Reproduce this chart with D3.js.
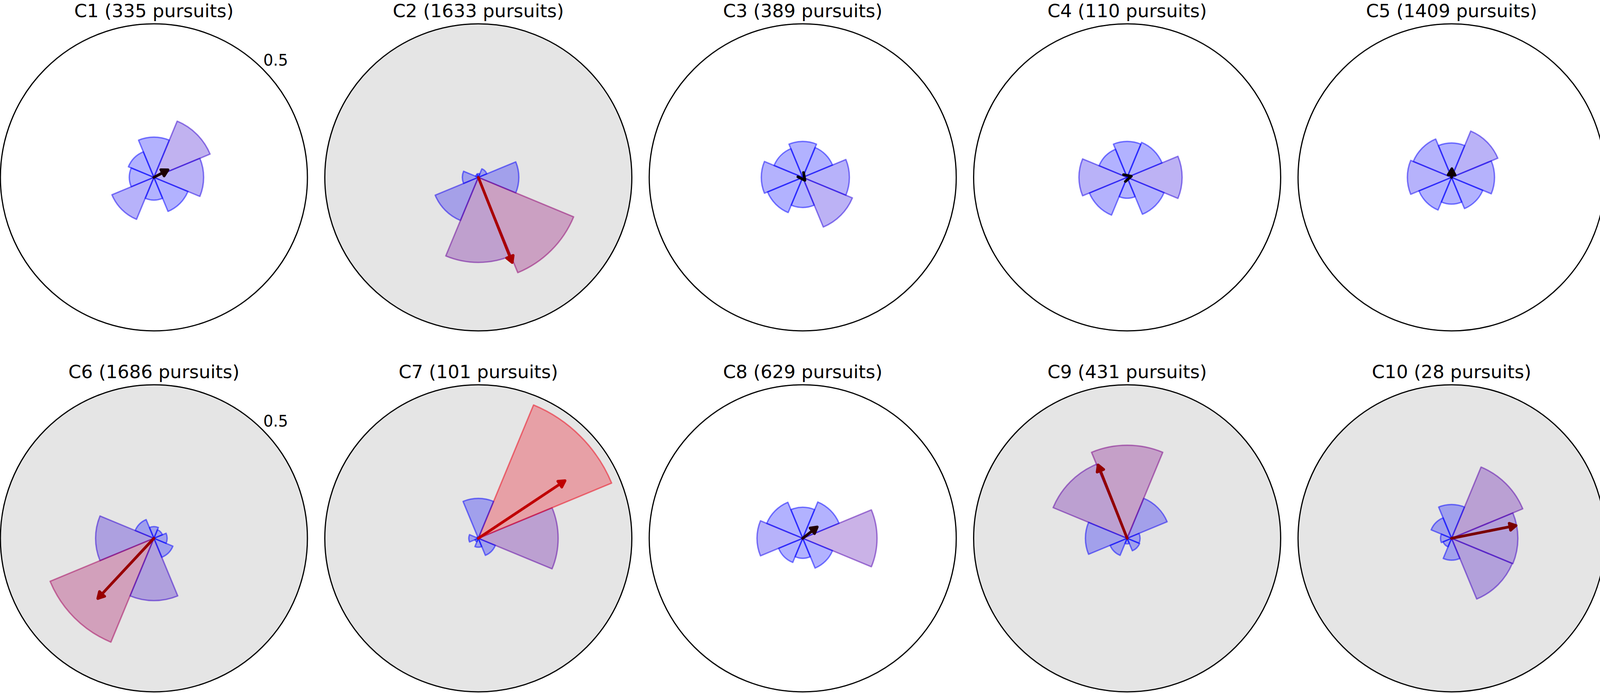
<!DOCTYPE html>
<head>
  <meta charset="utf-8">
  <script src="https://cdn.jsdelivr.net/npm/d3@7"></script>
  <style>
    body { margin: 0; background: #fff; }
    svg { display: block; font-family: "DejaVu Sans", sans-serif; }
  </style>
</head>

<body>
  <svg></svg>

  <script>
    const width = 4115;
    const height = 1774;

    // clusters and number of pursuits in each
    const clusters = ['C1', 'C2', 'C3', 'C4', 'C5', 'C6', 'C7', 'C8', 'C9', 'C10'];
    const pursuits = [335, 1633, 389, 110, 1409, 1686, 101, 629, 431, 28];
    // significant clusters get a grey disc
    const significant = [false, true, false, false, false, true, true, false, true, true];

    // bin centres (deg, counter-clockwise from east), 45 deg wide
    const binCentres = [0, 45, 90, 135, 180, 225, 270, 315];
    const binWidth = 45;

    // proportion of pursuits per direction bin, one row per cluster
    const proportions = [
      [0.162, 0.198, 0.131, 0.090, 0.080, 0.148, 0.074, 0.120],
      [0.132, 0.030, 0.012, 0.010, 0.052, 0.152, 0.277, 0.336],
      [0.152, 0.105, 0.117, 0.101, 0.135, 0.124, 0.098, 0.175],
      [0.179, 0.123, 0.117, 0.099, 0.157, 0.133, 0.068, 0.130],
      [0.140, 0.163, 0.112, 0.135, 0.144, 0.115, 0.087, 0.110],
      [0.043, 0.030, 0.038, 0.066, 0.190, 0.366, 0.203, 0.067],
      [0.260, 0.470, 0.130, 0.005, 0.031, 0.012, 0.029, 0.060],
      [0.242, 0.128, 0.101, 0.127, 0.149, 0.085, 0.065, 0.105],
      [0.042, 0.141, 0.303, 0.261, 0.136, 0.060, 0.018, 0.044],
      [0.216, 0.251, 0.110, 0.072, 0.036, 0.030, 0.071, 0.214],
    ];

    // mean direction arrow: angle (deg) and length
    const arrowAngle = [28, -68.3, -53, 15, 88, 227, 33.6, 38, 111.6, 11.2];
    const arrowLength = [0.052, 0.2985, 0.012, 0.014, 0.028, 0.268, 0.339, 0.060, 0.257, 0.214];

    const radialTicks = [0.5];
    const rMax = 0.5;

    // layout
    const ncols = 5;
    const radius = 393;
    const colX = d3.scaleLinear().domain([0, 4]).range([394, 394 + 4 * 830.5]);
    const rowY = d3.scaleOrdinal().domain([0, 1]).range([454, 1378]);

    const rScale = d3.scaleLinear().domain([0, rMax]).range([0, radius]);
    const barColor = d3.scaleLinear().domain([0.125, 0.5]).range(['#0000ff', '#ff0000']).clamp(true);
    const arrowColor = d3.scaleLinear().domain([0, 0.45]).range(['#000000', '#ff0000']).clamp(true);
    const rad = d => d * Math.PI / 180;

    const arc = d3.arc()
      .innerRadius(0)
      .outerRadius(d => rScale(d.value))
      .startAngle(d => Math.PI / 2 - rad(d.angle + binWidth / 2))
      .endAngle(d => Math.PI / 2 - rad(d.angle - binWidth / 2));

    const svg = d3.select('svg')
      .attr('width', width)
      .attr('height', height);

    clusters.forEach((name, i) => {
      const col = i % ncols;
      const row = Math.floor(i / ncols);
      const g = svg.append('g')
        .attr('transform', `translate(${colX(col)},${rowY(row)})`);

      // background disc
      g.append('circle')
        .attr('r', rScale(rMax))
        .attr('fill', significant[i] ? '#e5e5e5' : '#ffffff');

      // bars
      const bins = binCentres.map((angle, j) => ({ angle, value: proportions[i][j] }));
      g.selectAll('path.bar')
        .data(bins)
        .enter().append('path')
        .attr('class', 'bar')
        .attr('d', arc)
        .attr('fill', d => barColor(d.value))
        .attr('fill-opacity', 0.3)
        .attr('stroke', d => barColor(d.value))
        .attr('stroke-opacity', 0.5)
        .attr('stroke-width', 3.5)
        .attr('stroke-linejoin', 'round');

      // arrow (short ones come out as an open chevron, like matplotlib's)
      const a = rad(arrowAngle[i]);
      const len = rScale(arrowLength[i]);
      const ux = Math.cos(a), uy = -Math.sin(a);
      const tx = len * ux, ty = len * uy;
      const short = len < 18;
      const hl = short ? 18 : 16, hw = 9;
      const bx = tx - hl * ux, by = ty - hl * uy;
      const c1 = [bx - hw * uy, by + hw * ux];
      const c2 = [bx + hw * uy, by - hw * ux];
      const col2 = arrowColor(arrowLength[i]);
      if (!short) {
        g.append('line')
          .attr('x1', 0).attr('y1', 0)
          .attr('x2', bx).attr('y2', by)
          .attr('stroke', col2)
          .attr('stroke-width', 7)
          .attr('stroke-linecap', 'round');
      }
      g.append('path')
        .attr('d', short
          ? `M${c1}L${tx},${ty}L${c2}`
          : `M${tx},${ty}L${c1}L${c2}Z`)
        .attr('fill', short ? 'none' : col2)
        .attr('stroke', col2)
        .attr('stroke-width', 7)
        .attr('stroke-linecap', 'round')
        .attr('stroke-linejoin', 'round');

      // outer spine
      g.append('circle')
        .attr('r', rScale(rMax))
        .attr('fill', 'none')
        .attr('stroke', '#000')
        .attr('stroke-width', 3);

      // radial tick label only on the first panel of each row
      if (col === 0) {
        g.selectAll('text.rtick')
          .data(radialTicks)
          .enter().append('text')
          .attr('class', 'rtick')
          .attr('x', d => rScale(d) * Math.cos(rad(45)) + 2)
          .attr('y', d => -rScale(d) * Math.sin(rad(45)) - 8)
          .attr('font-size', 40)
          .text(d => d);
      }

      // title
      g.append('text')
        .attr('x', 0)
        .attr('y', -radius - 17)
        .attr('text-anchor', 'middle')
        .attr('font-size', 47)
        .text(`${name} (${pursuits[i]} pursuits)`);
    });
  </script>
</body>
